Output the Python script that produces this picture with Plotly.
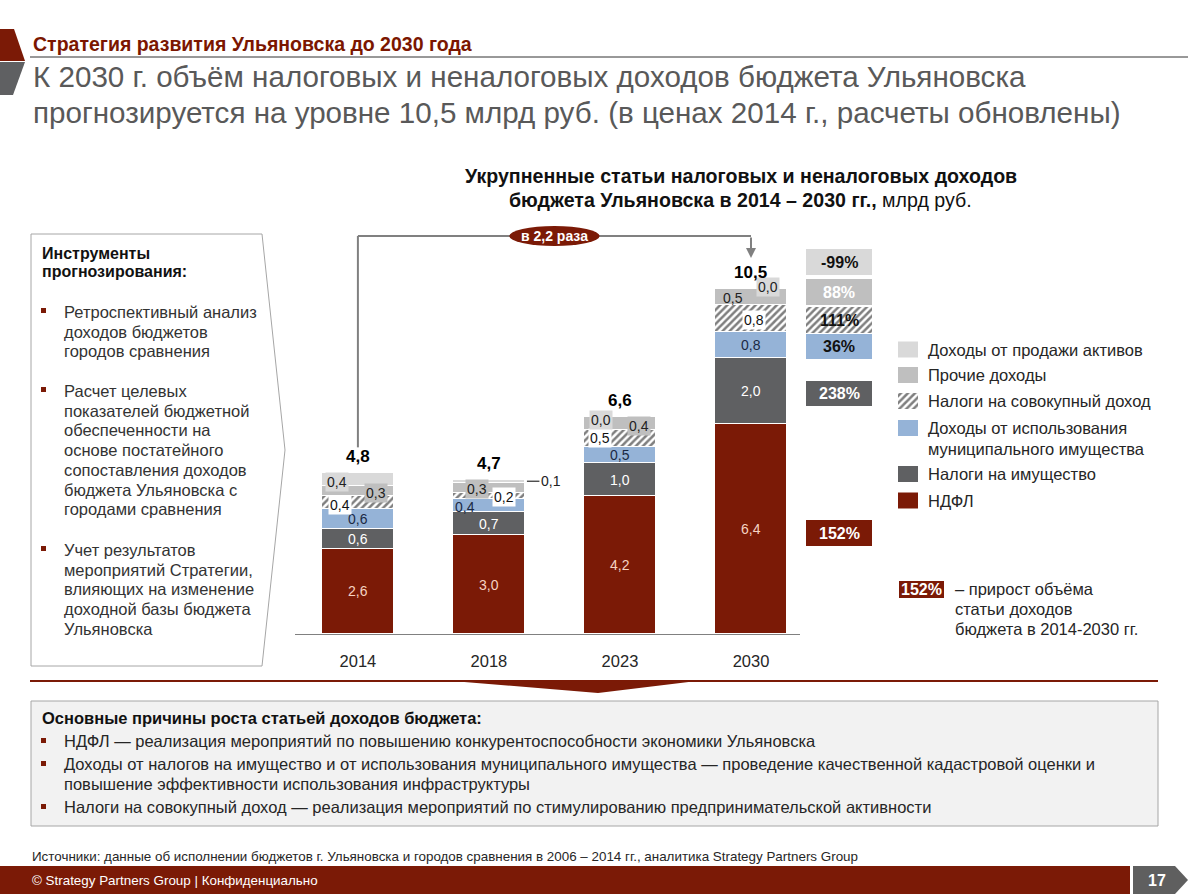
import plotly.graph_objects as go

W, H = 1188, 894

# ---------------- data ----------------
years = ["2014", "2018", "2023", "2030"]
totals_text = ["4,8", "4,7", "6,6", "10,5"]
ndfl = [2.6, 3.0, 4.2, 6.4]
property_tax = [0.6, 0.7, 1.0, 2.0]
municipal_property = [0.6, 0.4, 0.5, 0.8]
aggregate_income_tax = [0.4, 0.2, 0.5, 0.8]
other_income = [0.3, 0.3, 0.4, 0.5]
asset_sales = [0.4, 0.1, 0.0, 0.0]
series_names = ["НДФЛ", "Налоги на имущество",
                "Доходы от использования<br>муниципального имущества",
                "Налоги на совокупный доход", "Прочие доходы", "Доходы от продажи активов"]
growth_2014_2030 = ["152%", "238%", "36%", "111%", "88%", "-99%"]
growth_multiple = "в 2,2 раза"

series = [ndfl, property_tax, municipal_property, aggregate_income_tax, other_income, asset_sales]

# ---------------- style ----------------
SANS = "Liberation Sans, Arial, sans-serif"
NARROW = "Liberation Sans Narrow, Arial Narrow, Liberation Sans, sans-serif"
RED = "#7B1A06"
colors = [RED, "#5F6062", "#95B3D7", "#FFFFFF", "#BFBFBF", "#D9D9D9"]
label_colors = ["#F6D3C2", "#FFFFFF", "#1B2A44", "#111111", "#222222", "#222222"]
HATCH = dict(shape="/", fgcolor="#000000", bgcolor="#FFFFFF", size=5, solidity=0.5)

BASE_PX, TOP_PX, SCALE = 634, 200, 32.86
YMAX = (BASE_PX - TOP_PX) / SCALE


def PX(x):
    return x / W


def PY(y):
    return 1 - y / H


def ydata(ypx):
    return (BASE_PX - ypx) / SCALE


fig = go.Figure()
for i, (name, vals) in enumerate(zip(series_names, series)):
    marker = dict(color=colors[i], line=dict(color="white", width=1))
    if i == 3:
        marker["pattern"] = HATCH
    fig.add_trace(go.Bar(x=years, y=vals, name=name.replace("<br>", " "), marker=marker,
                         width=0.55, showlegend=False, hoverinfo="skip"))

# label placement overrides: (series, year) -> (xshift, yshift, bg)
label_style = {
    (5, 0): (-21, -2, colors[5]), (4, 0): (18, -2, colors[4]), (3, 0): (-18, -2, "white"),
    (4, 1): (-12, -1, colors[4]), (3, 1): (15, -1, "white"), (2, 1): (-24, -1, None),
    (5, 2): (-19, -3, colors[5]), (4, 2): (19, -2, colors[4]), (3, 2): (-20, 0, "white"),
    (4, 3): (-18, -1, None), (5, 3): (17, 2, colors[5]), (3, 3): (3, -1, "white"),
}

ann = []
stack_top = []
for j, yr in enumerate(years):
    cum = 0.0
    for i, vals in enumerate(series):
        v = vals[j]
        mid = cum + v / 2
        txt = f"{v:.1f}".replace(".", ",")
        if (i, j) == (5, 1):
            ann.append(dict(x=j, y=mid, xref="x", yref="y", text=txt, showarrow=True,
                            xshift=38, ax=24, ay=0, arrowhead=0, arrowwidth=1, arrowcolor="#000",
                            standoff=0, font=dict(family=NARROW, size=14, color="#222")))
        else:
            dx, dy, bg = label_style.get((i, j), (0, 0, None))
            a = dict(x=j, y=mid, xref="x", yref="y", text=txt, showarrow=False,
                     xshift=dx, yshift=dy, borderpad=1,
                     font=dict(family=NARROW, size=14, color=label_colors[i]))
            if bg:
                a["bgcolor"] = bg
            ann.append(a)
        cum += v
    stack_top.append(cum)
    ann.append(dict(x=j, y=cum, xref="x", yref="y", text=f"<b>{totals_text[j]}</b>",
                    showarrow=False, yanchor="bottom", yshift=5,
                    font=dict(family=SANS, size=17, color="#000")))

shapes = []
# bracket "в 2,2 раза"
BR_Y = ydata(236)
shapes.append(dict(type="line", xref="x", yref="y", x0=0, x1=0,
                   y0=stack_top[0] + 0.78, y1=BR_Y, line=dict(color="#808080", width=2)))
shapes.append(dict(type="line", xref="x", yref="y", x0=0, x1=len(years) - 1,
                   y0=BR_Y, y1=BR_Y, line=dict(color="#808080", width=2)))
ann.append(dict(x=len(years) - 1, y=ydata(258), xref="x", yref="y", text="", showarrow=True,
                ax=0, ay=-22, arrowhead=2, arrowsize=1, arrowwidth=2, arrowcolor="#808080"))
shapes.append(dict(type="circle", xref="x", yref="y", x0=1.5 - 0.345, x1=1.5 + 0.345,
                   y0=ydata(246), y1=ydata(226), fillcolor=RED, line=dict(width=0)))
ann.append(dict(x=1.5, y=BR_Y, xref="x", yref="y", text=f"<b>{growth_multiple}</b>",
                showarrow=False, font=dict(family=NARROW, size=14, color="white")))


def text(x, y, s, size=16.5, color="#262626", family=SANS, xanchor="left", yanchor="middle"):
    ann.append(dict(x=PX(x), y=PY(y), xref="paper", yref="paper", text=s, showarrow=False,
                    xanchor=xanchor, yanchor=yanchor, align="left",
                    font=dict(family=family, size=size, color=color)))


def rect(x0, y0, x1, y1, fill, line=None, lw=0):
    shapes.append(dict(type="rect", xref="paper", yref="paper", x0=PX(x0), x1=PX(x1),
                       y0=PY(y1), y1=PY(y0), fillcolor=fill,
                       line=dict(color=line or fill, width=lw)))


def poly(pts, fill, line=None, lw=0):
    path = "M " + " L ".join(f"{PX(x)},{PY(y)}" for x, y in pts) + " Z"
    shapes.append(dict(type="path", xref="paper", yref="paper", path=path, fillcolor=fill,
                       line=dict(color=line or fill, width=lw)))


def hatch_box(x0, y0, x1, y1):
    fig.add_trace(go.Scatter(x=[x0, x1, x1, x0, x0], y=[y0, y0, y1, y1, y0], fill="toself",
                             mode="lines", line=dict(width=0), fillcolor="white",
                             fillpattern=HATCH, xaxis="x2", yaxis="y2",
                             hoverinfo="skip", showlegend=False))


def lines(x, ys, strs, **kw):
    for y, s in zip(ys, strs):
        text(x, y, s, **kw)


# ---------------- header ----------------
poly([(0, 29), (14, 29), (25, 61), (0, 61)], RED)
poly([(0, 62), (25, 62), (13, 95), (0, 95)], "#5F6062")
text(31, 44, "<b>Стратегия развития Ульяновска до 2030 года</b>", 19.5, "#7B1600", NARROW)
shapes.append(dict(type="line", xref="paper", yref="paper", x0=PX(30), x1=1, y0=PY(57), y1=PY(57),
                   line=dict(color="#333333", width=1)))
text(31, 77, "К 2030 г. объём налоговых и неналоговых доходов бюджета Ульяновска", 29.6, "#595959")
text(31, 112, "прогнозируется на уровне 10,5 млрд руб. (в ценах 2014 г., расчеты обновлены)", 29.6, "#595959")

# chart title
text(741, 176, "<b>Укрупненные статьи налоговых и неналоговых доходов</b>", 19.6, "#111", xanchor="center")
text(740, 200, "<b>бюджета Ульяновска в 2014 – 2030 гг.,</b> млрд руб.", 19.6, "#111", xanchor="center")

# ---------------- left panel ----------------
poly([(31, 234), (262, 234), (285, 450), (262, 666), (31, 666)], "white", "#A6A6A6", 1)
lines(40, [253, 272], ["<b>Инструменты</b>", "<b>прогнозирования:</b>"], size=16, color="#111")
blocks = [(312, ["Ретроспективный анализ", "доходов бюджетов", "городов сравнения"]),
          (391, ["Расчет целевых", "показателей бюджетной", "обеспеченности на", "основе постатейного",
                 "сопоставления доходов", "бюджета Ульяновска с", "городами сравнения"]),
          (550, ["Учет результатов", "мероприятий Стратегии,", "влияющих на изменение",
                 "доходной базы бюджета", "Ульяновска"])]
for y, ls in blocks:
    rect(41, y - 4, 46, y + 1, RED)
    lines(62, [y + 19.7 * k for k in range(len(ls))], ls, color="#333333")

# ---------------- growth boxes ----------------
gboxes = [(520, 546, RED, "white"), (381, 406, "#5F6062", "white"), (334, 359, "#95B3D7", "#111"),
          (307, 333, None, "#111"), (279, 305, "#BFBFBF", "white"), (249, 275, "#D9D9D9", "#111")]
for (y0, y1, fill, fc), g in zip(gboxes, growth_2014_2030):
    if fill:
        rect(806, y0, 872, y1, fill)
    else:
        hatch_box(806, y0, 872, y1)
    text(839, (y0 + y1) / 2, f"<b>{g}</b>", 16, fc, xanchor="center")

# ---------------- legend ----------------
leg_y = [500.5, 474, 428, 401, 375, 349.5]
for i, (name, yc) in enumerate(zip(series_names, leg_y)):
    if i == 3:
        hatch_box(898, yc - 8, 918, yc + 8)
    else:
        rect(898, yc - 8, 918, yc + 8, colors[i])
    parts = name.split("<br>")
    lines(926, [yc + 21 * k for k in range(len(parts))], parts)

# footnote legend
rect(899, 581, 944, 598, RED)
text(921.5, 589.5, f"<b>{growth_2014_2030[0]}</b>", 16, "white", xanchor="center")
lines(953, [589, 609, 629], ["– прирост объёма", "статьи доходов", "бюджета в 2014-2030 гг."])

# ---------------- separator ----------------
shapes.append(dict(type="line", xref="paper", yref="paper", x0=PX(30), x1=PX(1158), y0=PY(681), y1=PY(681),
                   line=dict(color=RED, width=2)))
poly([(440, 680), (705, 680), (598, 693)], RED)

# ---------------- bottom box ----------------
rect(31, 701, 1158, 826, "#F2F2F2", "#A6A6A6", 1)
text(40, 718, "<b>Основные причины роста статьей доходов бюджета:</b>", 16.5, "#111")
reasons = [(741, ["НДФЛ — реализация мероприятий по повышению конкурентоспособности экономики Ульяновска"]),
           (764, ["Доходы от налогов на имущество и от использования муниципального имущества — проведение "
                  "качественной кадастровой оценки и",
                  "повышение эффективности использования инфраструктуры"]),
           (807, ["Налоги на совокупный доход — реализация мероприятий по стимулированию "
                  "предпринимательской активности"])]
for y, ls in reasons:
    rect(41, y - 3, 46, y + 2, RED)
    lines(62, [y + 20 * k for k in range(len(ls))], ls)

# ---------------- footer ----------------
text(30, 856, "Источники: данные об исполнении бюджетов г. Ульяновска и городов сравнения в 2006 – 2014 гг., "
     "аналитика Strategy Partners Group", 13.4, "#262626", NARROW)
rect(0, 866, 1130, 894, RED)
text(30, 880, "© Strategy Partners Group | Конфиденциально", 13.4, "white", NARROW)
poly([(1133, 866), (1175, 866), (1188, 880), (1175, 894), (1133, 894)], "#5F5F5F")
text(1157, 880, "<b>17</b>", 16, "white", xanchor="center")

fig.update_layout(
    width=W, height=H, margin=dict(l=0, r=0, t=0, b=0),
    paper_bgcolor="white", plot_bgcolor="rgba(0,0,0,0)",
    barmode="stack", bargap=0, showlegend=False,
    xaxis=dict(type="category", categoryorder="array", categoryarray=years,
               range=[-0.48, 3.374], domain=[PX(295), PX(800)], showline=True,
               linecolor="#808080", linewidth=1, ticks="", showgrid=False, zeroline=False,
               tickfont=dict(family=SANS, size=16.5, color="#262626"), ticklabelstandoff=12,
               fixedrange=True),
    yaxis=dict(range=[0, YMAX], domain=[PY(BASE_PX), PY(TOP_PX)], visible=False, fixedrange=True),
    xaxis2=dict(range=[0, W], domain=[0, 1], anchor="y2", visible=False, fixedrange=True),
    yaxis2=dict(range=[H, 0], domain=[0, 1], anchor="x2", visible=False, fixedrange=True),
    shapes=shapes, annotations=ann,
)
fig.write_html("out.html", config={"displayModeBar": False},
               post_script="document.body.style.margin='0';document.body.style.overflow='hidden';")
